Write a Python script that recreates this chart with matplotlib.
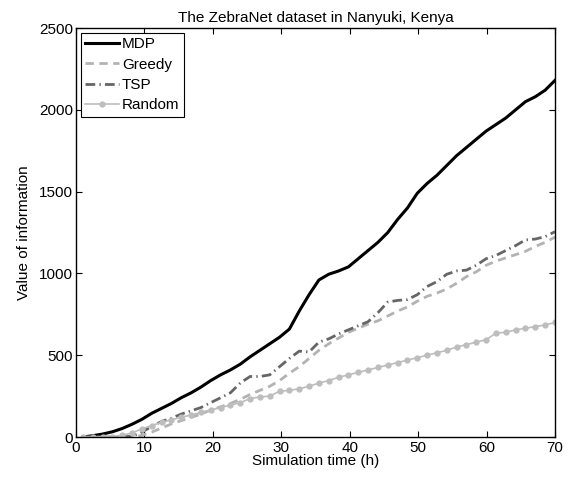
import numpy as np
from matplotlib import pyplot as plt

plt.rcParams['font.family'] = ['Liberation Sans', 'DejaVu Sans']

# sample times (h), 49 evenly spaced points from 1 to 70
t = np.linspace(1, 70, 49)

mdp = [0, 8, 18, 32, 52, 78, 108, 145, 175, 205, 240, 270, 305, 345, 380, 410,
       445, 490, 530, 570, 610, 660, 770, 870, 960, 995, 1015, 1040, 1090, 1140,
       1190, 1250, 1330, 1400, 1490, 1550, 1600, 1660, 1720, 1770, 1820, 1870,
       1910, 1950, 2000, 2050, 2080, 2120, 2180]
greedy = [0, 0, 0, 0, 0, 0, 10, 30, 55, 80, 100, 120, 140, 165, 185, 205, 230,
          260, 285, 310, 345, 390, 430, 480, 530, 570, 605, 640, 665, 690, 710,
          740, 770, 795, 830, 860, 880, 905, 940, 980, 1010, 1050, 1075, 1095,
          1115, 1135, 1165, 1190, 1222]
tsp = [0, 0, 0, 0, 0, 5, 30, 65, 95, 115, 140, 160, 180, 210, 240, 270, 330,
       370, 370, 380, 430, 480, 525, 520, 580, 600, 630, 655, 680, 705, 760,
       825, 835, 840, 870, 920, 950, 995, 1015, 1020, 1050, 1090, 1110, 1140,
       1170, 1205, 1210, 1225, 1255]
rand = [0, 0, 0, 2, 10, 25, 50, 70, 90, 105, 120, 135, 150, 165, 180, 195, 210,
        235, 245, 250, 280, 285, 295, 310, 330, 345, 365, 380, 395, 410, 425,
        440, 455, 470, 485, 500, 515, 530, 550, 565, 580, 595, 635, 640, 655,
        665, 675, 685, 700]

fig = plt.figure(figsize=(5.75, 4.83), dpi=100)
ax = fig.add_axes([0.1322, 0.0952, 0.833, 0.8468])

fs = 11

ax.plot(t, mdp, color='black', lw=2.2, label='MDP')
ax.plot(t, greedy, color='#b3b3b3', lw=2.0, ls=(0, (3, 2)), label='Greedy')
ax.plot(t, tsp, color='#666666', lw=2.0, ls=(0, (3.5, 1.5, 0.5, 1.5)), label='TSP')
ax.plot(t, rand, color='#bdbdbd', lw=1.2, marker='o', ms=3.5, mec='#bdbdbd',
        label='Random')

ax.set_xlim(0, 70)
ax.set_ylim(0, 2500)
ax.set_xticks(range(0, 71, 10))
ax.set_yticks(range(0, 2501, 500))
ax.tick_params(direction='in', top=True, right=True, labelsize=fs, length=4,
               width=0.8)
ax.tick_params(axis='x', pad=3)
ax.tick_params(axis='y', pad=2)
for s in ax.spines.values():
    s.set_linewidth(1.0)

ax.set_xlabel('Simulation time (h)', fontsize=fs, labelpad=-1)
ax.set_ylabel('Value of information', fontsize=fs, labelpad=6)
ax.set_title('The ZebraNet dataset in Nanyuki, Kenya', fontsize=fs, pad=4)

leg = ax.legend(loc='upper left', fontsize=fs, fancybox=False, framealpha=1,
                edgecolor='black', borderaxespad=0.3, handlelength=2.2,
                handletextpad=0.2, labelspacing=0.42, borderpad=0.3)
leg.get_frame().set_linewidth(0.8)

plt.savefig('out.png', dpi=100)
